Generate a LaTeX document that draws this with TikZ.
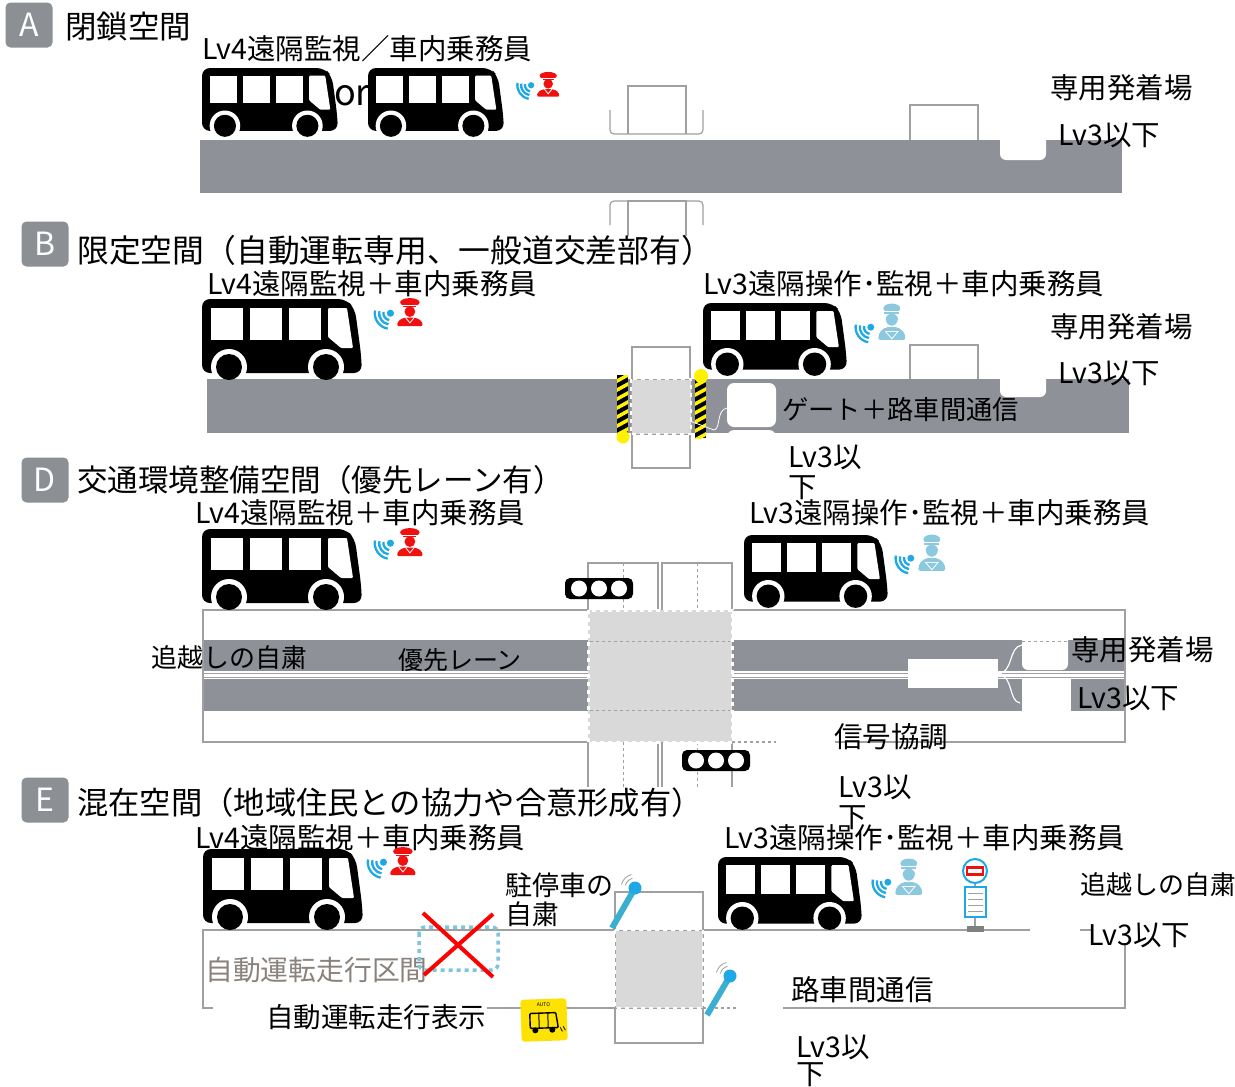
\documentclass[tikz,border=0pt]{standalone}
\usepackage{fontspec}
\setmainfont{Noto Sans CJK JP}
\usetikzlibrary{calc}

\definecolor{roadgray}{HTML}{8E9197}
\definecolor{tagGray}{HTML}{8C8F94}
\definecolor{patchgray}{HTML}{D9D9D9}
\definecolor{lineGray}{HTML}{A0A0A0}
\definecolor{sigblue}{HTML}{1FA8E6}
\definecolor{opblue}{HTML}{8CC8DE}
\definecolor{conred}{HTML}{F01010}
\definecolor{poleblue}{HTML}{3AAFD0}
\definecolor{dotblue}{HTML}{7CC6DE}
\definecolor{zonetext}{HTML}{8A827C}
\definecolor{gateyellow}{HTML}{FFF200}

\tikzset{
  lbl/.style={anchor=west, inner sep=0pt, font=\fontsize{28.5}{30}\selectfont},
  ttl/.style={anchor=west, inner sep=0pt, font=\fontsize{30.5}{32}\selectfont},
  tag/.style={fill=tagGray, text=white, rounded corners=5pt, minimum width=47pt,
              minimum height=45pt, inner sep=0pt, font=\fontsize{32}{32}\selectfont},
  edge/.style={draw=lineGray, line width=1.2pt},
  zone/.style={fill=patchgray},
  zoneborder/.style={draw=white, line width=2.6pt, dash pattern=on 4pt off 4pt},
}

% bus pictogram, top-left corner at (#1,#2), scaled by #3 (base width 160)
\newcommand{\bus}[3]{%
\begin{scope}[shift={(#1,#2)},scale=#3]
  \fill[black, rounded corners=8pt] (0,74) -- (0,0) -- (144,0) -- (153,10) -- (159,55) -- (160,74) -- cycle;
  \fill[white] (9,9) rectangle (41,41);
  \fill[white] (48,9) rectangle (80,41);
  \fill[white] (87,9) rectangle (119,41);
  \fill[white, rounded corners=1pt] (126,9) -- (145,9) -- (151,49) -- (139,49) -- (126,38) -- cycle;
  \begin{scope}
    \clip (0,0) rectangle (160,74);
    \fill[white] (27,68) circle (18);
    \fill[white] (124,68) circle (18);
  \end{scope}
  \fill[black] (27,68) circle (13);
  \fill[black] (124,68) circle (13);
\end{scope}}

% radio waves used by the staff icons
\newcommand{\waves}[2]{%
  \fill[sigblue] (#1,#2) circle (3.3);
  \foreach \r in {6.5,10.5,14.5}{\draw[sigblue, line width=2.3pt] (#1,#2) ++(100:\r) arc (100:190:\r);}
}

% remote monitoring + on-board conductor (red)
\newcommand{\conductor}[3]{%
\begin{scope}[shift={(#1,#2)},scale=#3]
  \waves{18}{15}
  \fill[conred] (36,5) ellipse (9 and 4);
  \fill[conred] (30,7) rectangle (42,9.5);
  \draw[white, line width=0.7pt] (28,7.5) -- (44,7.5);
  \fill[conred] (36,13.5) circle (5);
  \fill[conred, rounded corners=2pt] (24,27) -- (25,22) -- (31,19) -- (41,19) -- (47,22) -- (48,27) -- cycle;
  \draw[white, line width=0.8pt] (32,19) -- (36,24) -- (40,19);
\end{scope}}

% remote operator (light blue)
\newcommand{\operator}[3]{%
\begin{scope}[shift={(#1,#2)},scale=#3]
  \waves{16}{24}
  \fill[opblue] (36,6) ellipse (8 and 4.5);
  \fill[opblue] (29,8.5) rectangle (43,11);
  \draw[white, line width=0.7pt] (28,9) -- (44,9);
  \fill[opblue] (36,17) circle (6);
  \draw[white, line width=0.8pt] (30,17) arc (180:0:6);
  \fill[opblue, rounded corners=2pt] (23,36) -- (24,29) -- (30,24) -- (42,24) -- (48,29) -- (49,36) -- cycle;
  \draw[white, line width=0.8pt] (30,28) -- (42,28) -- (36,35) -- cycle;
\end{scope}}

% traffic signal head, top-left at (#1,#2)
\newcommand{\signalhead}[2]{%
  \fill[black, rounded corners=5pt] (#1,#2) rectangle ++(68,21);
  \foreach \i in {0,1,2}{\fill[white] ({#1+14+\i*20},{#2+10.5}) circle (8);}
}

% striped gate bar
\newcommand{\gatebar}[4]{%
\begin{scope}
  \clip (#1,#2) rectangle (#3,#4);
  \fill[black] (#1,#2) rectangle (#3,#4);
  \foreach \k in {0,...,8}{\fill[gateyellow] (#1,{#2+4+\k*9}) -- (#3,{#2-2+\k*9}) -- (#3,{#2+2+\k*9}) -- (#1,{#2+8+\k*9}) -- cycle;}
\end{scope}}

% roadside radio unit on a pole
\newcommand{\roadunit}[4]{%
  \draw[poleblue, line width=6pt] (#1,#2) -- (#3,#4);
  \fill[sigblue] (#3,#4) circle (6.5);
  \foreach \r in {10,14}{\draw[lineGray, line width=0.8pt] (#3,#4) ++(195:\r) arc (195:255:\r);}
}

\begin{document}
\begin{tikzpicture}[x=1pt,y=-1pt]
\useasboundingbox (0,0) rectangle (1235,1087);
\fill[white] (0,0) rectangle (1235,1087);

% ================= A : closed space =================
\node[tag] (tagA) at (29,25) {A};
\node[ttl, font=\fontsize{31.5}{32}\selectfont] (titleA) at (65,27) {閉鎖空間};
\node[lbl] (roleA) at (202,49) {Lv4遠隔監視／車内乗務員};

\fill[roadgray] (200,140) rectangle (1122,193);
\fill[white, rounded corners=6pt] (1000,128) rectangle (1046,160);
\draw[edge] (910,140) -- (910,105) -- (978,105) -- (978,140);
\draw[edge] (628,134) -- (628,86) -- (686,86) -- (686,134);
\draw[edge, rounded corners=4pt] (610,110) -- (610,134) -- (703,134) -- (703,110);
\draw[edge, rounded corners=4pt] (610,225) -- (610,201) -- (703,201) -- (703,225);
\draw[edge] (628,236) -- (628,201) -- (686,201) -- (686,236);

\bus{202}{68}{0.85}
\node[inner sep=0pt, font=\fontsize{36}{36}\selectfont] (orA) at (352,96) {or};
\bus{368}{68}{0.85}
\conductor{514}{71}{0.95}

\node[lbl] (termA) at (1050,88) {専用発着場};
\node[lbl] (lvA) at (1058,135) {Lv3以下};

% ================= B : limited space =================
\node[tag] (tagB) at (45,244) {B};
\node[ttl, font=\fontsize{31.8}{32}\selectfont] (titleB) at (77,250) {限定空間（自動運転専用、一般道交差部有）};
\node[lbl] (roleB1) at (207,284) {Lv4遠隔監視＋車内乗務員};
\node[lbl] (roleB2) at (703,284) {Lv3遠隔操作･監視＋車内乗務員};

\fill[roadgray] (207,379) rectangle (1129,433);
\fill[white, rounded corners=6pt] (1000,368) rectangle (1046,397);
\draw[edge] (910,379) -- (910,345) -- (978,345) -- (978,379);

% level crossing with gates
\fill[white] (632,347) rectangle (690,468);
\draw[edge] (632,347) rectangle (690,468);
\fill[zone] (631,379) rectangle (691,434);
\draw[lineGray, line width=0.8pt] (631,379) rectangle (691,434);
\draw[zoneborder] (631,379) rectangle (691,434);
\gatebar{617}{375}{628}{433}
\fill[gateyellow] (623,437) circle (6.5);
\gatebar{695}{380}{706}{438}
\fill[gateyellow] (701,376) circle (7);

\fill[white, rounded corners=7pt] (727,383) rectangle (776,427);
\fill[white, rounded corners=7pt] (727,430) rectangle (776,460);
\draw[white, line width=0.8pt] (690,421) -- (714,430) .. controls (721,429) and (716,410) .. (727,408);
\node[lbl, font=\fontsize{26.3}{28}\selectfont] (gateB) at (782,410) {ゲート＋路車間通信};

\bus{202}{299}{1}
\conductor{371}{297}{1.08}
\bus{703}{303}{0.9}
\operator{854}{302}{1.05}

\node[lbl] (termB) at (1050,327) {専用発着場};
\node[lbl] (lvB) at (1058,373) {Lv3以下};
\node[lbl] (lvB2a) at (788,457) {Lv3以};
\node[lbl] (lvB2b) at (788,488) {下};

% ================= D : traffic-environment space =================
\node[tag] (tagD) at (45,480) {D};
\node[ttl] (titleD) at (77,480) {交通環境整備空間（優先レーン有）};
\node[lbl] (roleD1) at (195,513) {Lv4遠隔監視＋車内乗務員};
\node[lbl] (roleD2) at (749,513) {Lv3遠隔操作･監視＋車内乗務員};

% lanes
\fill[roadgray] (203,640) rectangle (1125,671);
\fill[roadgray] (203,679) rectangle (1125,711);
\draw[lineGray, line width=0.8pt] (203,673.5) -- (1125,673.5);
\draw[lineGray, line width=0.8pt] (203,677) -- (1125,677);
\fill[white, rounded corners=6pt] (1022,628) rectangle (1068,670);
\draw[lineGray, dashed, line width=0.8pt] (1022,641) -- (1068,641);
\fill[white] (1022,679) rectangle (1071,712);
\fill[white] (908,659) rectangle (998,688);
\draw[white, line width=1.2pt] (1022,645) .. controls (1008,647) and (1014,672) .. (998,674);
\draw[white, line width=1.2pt] (998,674) .. controls (1014,676) and (1008,701) .. (1020,703);

% outline of the road
\draw[edge] (588,610) -- (203,610) -- (203,742) -- (588,742);
\draw[edge] (732,610) -- (1125,610) -- (1125,742) -- (835,742);
\draw[edge, dashed] (732,742) -- (776,742);

% crossing streets
\draw[edge] (588,610) -- (588,563) -- (658,563) -- (658,610);
\draw[edge] (662,610) -- (662,563) -- (732,563) -- (732,610);
\draw[edge] (588,742) -- (588,787);
\draw[edge] (658,742) -- (658,787);
\draw[edge] (662,742) -- (662,787);
\draw[edge] (732,742) -- (732,787);
\draw[lineGray, dashed, line width=0.9pt] (623,563) -- (623,610);
\draw[lineGray, dashed, line width=0.9pt] (697,563) -- (697,610);
\draw[lineGray, dashed, line width=0.9pt] (623,742) -- (623,787);
\draw[lineGray, dashed, line width=0.9pt] (697,742) -- (697,787);

% intersection
\fill[zone] (588,610) rectangle (732,742);
\draw[lineGray, dashed, line width=0.9pt] (590,641) -- (730,641);
\draw[lineGray, dashed, line width=0.9pt] (590,710) -- (730,710);
\draw[zoneborder, line width=3pt] (588,610) rectangle (732,742);

\signalhead{565}{578}
\signalhead{682}{750}

\node[lbl, font=\fontsize{26}{28}\selectfont] (passD) at (151,658) {追越しの自粛};
\node[lbl, font=\fontsize{25}{28}\selectfont] (priD) at (398,660) {優先レーン};
\node[lbl] (termD) at (1071,650) {専用発着場};
\node[lbl] (lvD) at (1077,698) {Lv3以下};
\node[lbl] (sigD) at (834,737) {信号協調};

\bus{202}{529}{1}
\conductor{371}{527}{1.08}
\bus{744}{535}{0.9}
\operator{894}{533}{1.05}

\node[lbl] (lvD2a) at (838,787) {Lv3以};
\node[lbl] (lvD2b) at (838,818) {下};

% ================= E : mixed space =================
\node[tag] (tagE) at (45,800) {E};
\node[ttl, font=\fontsize{31.3}{32}\selectfont] (titleE) at (77,803) {混在空間（地域住民との協力や合意形成有）};

\draw[edge] (615,930) -- (203,930) -- (203,1008) -- (213,1008);
\draw[edge] (487,1008) -- (615,1008);
\draw[edge] (703,930) -- (1030,930);
\draw[edge] (1080,930) -- (1092,930);
\draw[edge] (1125,943) -- (1125,1008) -- (783,1008);
\draw[edge, dashed] (703,1008) -- (736,1008);

\draw[edge] (615,930) -- (615,892) -- (703,892) -- (703,930);
\draw[edge] (615,1008) -- (615,1043) -- (703,1043) -- (703,1008);
\fill[zone] (615,930) rectangle (703,1008);
\draw[lineGray, line width=0.8pt] (615,930) rectangle (703,1008);
\draw[zoneborder] (615,930) rectangle (703,1008);

\roadunit{612}{928}{635}{888}
\roadunit{707}{1015}{730}{976}

% automated-driving section, not allowed past this point
\node[lbl, text=zonetext, font=\fontsize{27.8}{28}\selectfont] (zoneE) at (205,970) {自動運転走行区間};
\draw[dotblue, line width=3.5pt, dash pattern=on 4pt off 4pt, rounded corners=6pt] (419,927) rectangle (498,970);
\draw[red, line width=4pt] (423,913) -- (493,977);
\draw[red, line width=4pt] (493,914) -- (424,975);

\node[lbl, font=\fontsize{27.5}{28}\selectfont] (markE) at (266,1017) {自動運転走行表示};

% "AUTO" sticker
\begin{scope}[shift={(544,1020)}, rotate=2]
  \fill[yellow!85!orange, rounded corners=3pt] (-23,-21) rectangle (23,21);
  \node[inner sep=0pt, font=\fontsize{5}{5}\selectfont] (autoE) at (0,-15) {AUTO};
  \draw[black, line width=1.4pt, rounded corners=1pt] (-14,8) -- (-14,-7) -- (12,-7) -- (14,8) -- cycle;
  \draw[black, line width=1pt] (-5,-7) -- (-5,8) (4,-7) -- (4,8);
  \fill[black] (-9,10) circle (3) (8,10) circle (3);
  \draw[black, line width=0.8pt] (16,8) -- (18,12) (19,7) -- (21,11);
\end{scope}

\node[lbl, font=\fontsize{27}{28}\selectfont] (parkE1) at (505,885) {駐停車の};
\node[lbl, font=\fontsize{27}{28}\selectfont] (parkE2) at (505,914) {自粛};

\bus{203}{849}{1}
\node[lbl] (roleE1) at (195,838) {Lv4遠隔監視＋車内乗務員};
\conductor{364}{846}{1.08}

\bus{718}{857}{0.9}
\operator{871}{857}{1.05}
\node[lbl] (roleE2) at (724,838) {Lv3遠隔操作･監視＋車内乗務員};

% bus stop
\draw[lineGray, line width=1.5pt] (975,883) -- (975,927);
\fill[white] (965,887) rectangle (986,917);
\draw[sigblue, line width=1.3pt] (965,887) rectangle (986,917);
\foreach \yy in {893,899,905,911}{\draw[lineGray, line width=0.5pt] (968,\yy) -- (983,\yy);}
\fill[white] (975,871) circle (12);
\draw[sigblue, line width=2pt] (975,871) circle (12);
\fill[conred] (966,866) rectangle (984,876);
\fill[white] (968,869) rectangle (982,873);
\fill[gray] (967,926) rectangle (984,932);

\node[lbl, font=\fontsize{26}{28}\selectfont] (passE) at (1080,885) {追越しの自粛};
\node[lbl] (lvE) at (1088,935) {Lv3以下};
\node[lbl] (commE) at (791,990) {路車間通信};
\node[lbl] (lvE2a) at (796,1047) {Lv3以};
\node[lbl] (lvE2b) at (796,1075) {下};

\end{tikzpicture}
\end{document}
